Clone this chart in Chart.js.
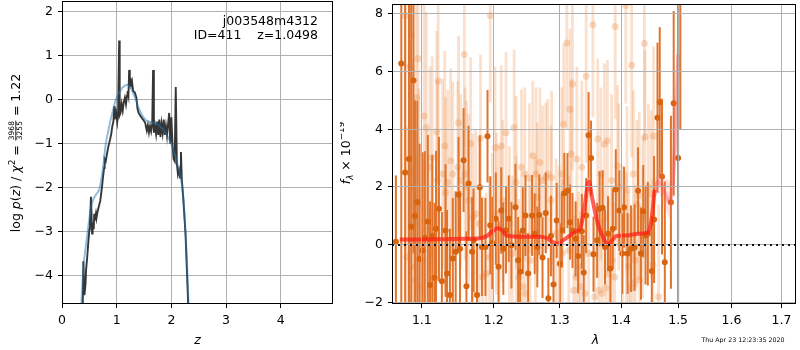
<!DOCTYPE html>
<html>
<head>
<meta charset="utf-8">
<script src="https://cdn.jsdelivr.net/npm/chart.js@4.4.0/dist/chart.umd.min.js"></script>
<style>
  html, body { margin: 0; padding: 0; background: #fff; }
  #wrap { position: relative; width: 800px; height: 350px; }
  canvas { position: absolute; top: 0; }
  #pz { left: 0; }
  #spec { left: 340px; }
</style>
</head>
<body>
<div id="wrap">
  <canvas id="pz" width="340" height="350"></canvas>
  <canvas id="spec" width="460" height="350"></canvas>
</div>
<script>
/* ---- p(z) panel ---- */
const zTicks = [0, 1, 2, 3, 4];
const logpTicks = [-4, -3, -2, -1, 0, 1, 2];

// chi2-based p(z), noisy grid
const zGrid = [0.36, 0.38, 0.39, 0.41, 0.43, 0.44, 0.46, 0.48, 0.50, 0.51, 0.53, 0.55, 0.56, 0.58, 0.59,
  0.60, 0.62, 0.63, 0.65, 0.67, 0.70, 0.73, 0.75, 0.77, 0.78, 0.80, 0.82, 0.85, 0.88, 0.90, 0.92, 0.94,
  0.955, 0.965, 0.98, 0.995, 1.01, 1.025, 1.045, 1.055, 1.07, 1.09, 1.11, 1.13, 1.15, 1.17, 1.19, 1.20,
  1.215, 1.228, 1.24, 1.25, 1.265, 1.28, 1.30, 1.33, 1.36, 1.38, 1.40, 1.44, 1.48, 1.52, 1.55, 1.57,
  1.59, 1.61, 1.63, 1.65, 1.665, 1.68, 1.70, 1.72, 1.74, 1.76, 1.78, 1.80, 1.82, 1.84, 1.86, 1.88,
  1.90, 1.92, 1.94, 1.96, 1.98, 2.00, 2.02, 2.04, 2.06, 2.08, 2.10, 2.12, 2.14, 2.16, 2.175, 2.19,
  2.22, 2.26, 2.31, 2.33];
const logpGrid = [-5.5, -4.6, -3.68, -4.45, -4.2, -3.88, -3.6, -3.27, -2.95, -2.82, -2.21, -3.05, -2.8, -2.95, -2.6,
  -2.75, -2.6, -2.7, -2.55, -2.45, -2.3, -2.0, -1.76, -1.55, -1.35, -1.4, -1.25, -1.05, -0.9, -0.78, -0.6, -0.5,
  -0.15, -0.45, -0.2, -0.35, -0.5, -0.3, 1.35, -0.35, -0.3, -0.1, -0.25, -0.05, 0.05, -0.1, 0.1, 0.2,
  0.1, 0.68, 0.3, 0.5, 0.35, 0.42, 0.2, 0.17, 0.05, -0.2, -0.3, -0.38, -0.45, -0.52, -0.7, -0.58,
  -0.75, -0.6, -0.72, -0.55, 0.68, -0.75, -0.6, -0.78, -0.5, -0.8, -0.45, -0.85, -0.55, -0.75, -0.45, -0.8,
  -0.6, -0.82, -0.55, -0.3, -1.0, -0.4, -1.0, -1.35, -1.4, 0.29, -1.45, -1.7, -1.6, -1.78, -1.19, -1.8,
  -2.3, -3.1, -4.75, -5.5];

// smooth template p(z)
const zFit = [0.33, 0.36, 0.40, 0.45, 0.50, 0.54, 0.58, 0.63, 0.68, 0.72, 0.76, 0.80, 0.84, 0.88, 0.92, 0.96,
  1.00, 1.05, 1.10, 1.15, 1.20, 1.25, 1.30, 1.35, 1.40, 1.45, 1.50, 1.55, 1.60, 1.65, 1.70, 1.75, 1.80,
  1.85, 1.90, 1.95, 2.00, 2.05, 2.10, 2.15, 2.20, 2.24, 2.27, 2.30, 2.33];
const logpFit = [-5.2, -4.5, -3.7, -3.2, -2.7, -2.4, -2.25, -2.15, -2.05, -1.8, -1.45, -1.0, -0.75, -0.5, -0.3, -0.1,
  0.05, 0.17, 0.27, 0.32, 0.34, 0.28, 0.15, 0.0, -0.18, -0.32, -0.42, -0.48, -0.5, -0.52, -0.53, -0.56, -0.62,
  -0.68, -0.76, -0.88, -1.02, -1.2, -1.4, -1.65, -2.0, -2.6, -3.3, -4.2, -5.2];

/* ---- spectrum panel ---- */
const lamTicks = [1.1, 1.2, 1.3, 1.4, 1.5, 1.6, 1.7];
const fluxTicks = [-2, 0, 2, 4, 6, 8];

const darkLam = [1.066, 1.073, 1.078, 1.083, 1.086, 1.089, 1.091, 1.094, 1.097, 1.101, 1.104, 1.108, 1.111, 1.114,
  1.117, 1.119, 1.123, 1.127, 1.132, 1.134, 1.138, 1.142, 1.146, 1.150, 1.152, 1.157, 1.161, 1.164, 1.169,
  1.171, 1.176, 1.180, 1.183, 1.188, 1.191, 1.195, 1.198, 1.203, 1.207, 1.211, 1.214, 1.218, 1.222, 1.226,
  1.232, 1.236, 1.239, 1.243, 1.247, 1.251, 1.257, 1.261, 1.265, 1.268, 1.273, 1.278, 1.282, 1.286, 1.290,
  1.295, 1.300, 1.303, 1.307, 1.312, 1.316, 1.320, 1.325, 1.329, 1.335, 1.338, 1.342, 1.346, 1.350, 1.354,
  1.360, 1.364, 1.369, 1.373, 1.378, 1.382, 1.386, 1.391, 1.397, 1.402, 1.405, 1.411, 1.417, 1.423, 1.429,
  1.434, 1.438, 1.442, 1.446, 1.453, 1.457, 1.463, 1.467, 1.471, 1.476, 1.487, 1.492, 1.500, 1.504];
const darkFlux = [0.1, 6.28, 2.5, 2.97, 0.62, 5.69, 1.0, 1.48, -0.5, -0.2, 0.24, 0.8, -1.40, 0.3,
  -1.15, 0.55, 1.24, -1.27, 0.49, -1.00, -1.75, -0.48, -0.25, 1.73, -0.14, 2.93, -1.44, 2.12, -0.25,
  0.15, -1.75, 1.99, -0.08, -0.08, 3.76, 0.67, 0.06, 0.9, -0.77, 1.18, -0.14, 0.5, 0.90, -0.02,
  1.30, -0.54, -0.94, 0.49, 1.01, -1.00, 1.01, 0.38, -0.08, 1.03, -0.45, 1.10, -1.86, 0.3, -1.38,
  0.84, -0.66, 0.5, 1.78, 1.87, 0.78, 0.49, 0.2, -0.39, 0.46, -0.97, 1.01, 3.79, 3.00, -0.33,
  0.15, 1.24, 1.28, -0.08, 0.38, -0.83, 0.55, 1.91, 1.18, -0.31, 1.30, -0.31, -0.14, -0.10, 1.87,
  -0.31, 1.16, 0.32, 0.38, -0.91, 0.87, 4.40, 4.94, 2.36, -0.61, 1.47, 4.90, 3.0, 9.5];
const darkErr = [2.3, 9, 7, 5.5, 8, 6, 4.0, 3.5, 4.0, 3.4, 3.0, 3.0, 2.9, 2.8,
  2.6, 2.7, 2.5, 2.4, 2.3, 2.2, 2.3, 2.1, 2.1, 2.0, 2.0, 1.8, 1.9, 2.0, 1.9,
  1.8, 1.8, 1.8, 1.7, 1.7, 1.6, 1.7, 1.6, 1.6, 1.6, 1.5, 1.6, 1.5, 1.5, 1.5,
  1.5, 1.5, 1.4, 1.5, 1.4, 1.4, 1.4, 1.4, 1.4, 1.4, 1.4, 1.4, 1.4, 1.4, 1.4,
  1.3, 1.4, 1.3, 1.4, 1.3, 1.3, 1.3, 1.3, 1.3, 1.3, 1.3, 1.3, 1.5, 1.3, 1.3,
  1.3, 1.3, 1.3, 1.3, 1.3, 1.3, 1.4, 1.4, 1.4, 1.4, 1.4, 1.4, 1.5, 1.5, 1.5,
  1.6, 1.6, 1.7, 1.8, 1.9, 2.2, 2.6, 2.6, 2.7, 2.8, 3.0, 3.2, 8, 5.5];

const lightLam = [1.078, 1.080, 1.084, 1.085, 1.086, 1.088, 1.090, 1.091, 1.093, 1.095, 1.096, 1.097, 1.101,
  1.103, 1.106, 1.107, 1.111, 1.114, 1.120, 1.121, 1.122, 1.128, 1.131, 1.132, 1.135, 1.139, 1.142, 1.149,
  1.150, 1.153, 1.158, 1.159, 1.161, 1.164, 1.167, 1.170, 1.174, 1.179, 1.181, 1.184, 1.189, 1.194, 1.195,
  1.198, 1.202, 1.204, 1.208, 1.211, 1.213, 1.218, 1.223, 1.227, 1.230, 1.233, 1.237, 1.241, 1.243, 1.247,
  1.253, 1.254, 1.258, 1.262, 1.265, 1.269, 1.273, 1.278, 1.281, 1.286, 1.294, 1.299, 1.304, 1.306, 1.311,
  1.314, 1.316, 1.318, 1.320, 1.322, 1.326, 1.330, 1.333, 1.340, 1.342, 1.346, 1.353, 1.356, 1.361, 1.363,
  1.368, 1.372, 1.374, 1.377, 1.379, 1.385, 1.389, 1.390, 1.394, 1.402, 1.408, 1.409, 1.413, 1.416, 1.418,
  1.420, 1.424, 1.432, 1.437, 1.440, 1.441, 1.447, 1.452, 1.455, 1.456, 1.465,
  1.233, 1.246, 1.263, 1.287, 1.303, 1.327, 1.335, 1.366, 1.384, 1.396, 1.410, 1.421, 1.427, 1.431];
const lightFlux = [7.94, -0.43, 6.18, 2.45, 7.28, 1.99, -0.77, -1.23, 5.09, 6.45, 1.41, -1.46, -0.54,
  4.46, 4.06, 0.49, 2.68, 3.02, 3.91, 2.22, 5.67, 2.45, 3.42, 1.81, 2.16, 2.91, 2.45, 2.68,
  4.23, 2.22, 6.59, 2.45, 1.99, 1.53, 3.50, 0.95, 1.07, 0.72, 3.69, -1.12, -1.00, -0.43, 7.94,
  0.38, 3.37, 1.07, 0.61, 3.42, 1.53, 3.88, 0.72, -0.31, 4.06, 0.38, -1.12, 2.68, -1.46, -1.69,
  2.30, -0.54, 3.08, 0.43, 1.64, 2.85, 2.22, 2.33, 2.45, 1.53, 0.38, 0.15, -0.31, 4.17, 6.99,
  -0.20, 4.69, 3.14, 5.57, -1.58, -1.12, -0.77, -1.46, -1.69, 5.84, -0.31, 7.62, -1.81, 3.66, -1.58,
  -1.69, 3.48, -1.50, 3.60, -1.00, -0.54, -1.12, 7.56, 2.73, 0.15, 8.29, -0.08, -0.77, -1.52, 6.22,
  -1.34, -0.54, -1.23, 0.95, 6.97, 3.74, 1.99, 1.76, -0.71, 3.77, -1.81,
  2.16, 2.45, 2.45, 2.33, 2.45, 2.97, 2.68, 2.45, 2.22, 2.0, 1.9, 2.45, 1.41, 1.7];
const lightErr = [5.5, 4.5, 5.5, 4.5, 5.5, 4.5, 4, 4, 4.5, 4.5, 4, 3.5, 3.5,
  4, 4, 3.5, 3.5, 3.5, 3.5, 3.5, 3.5, 3.3, 3.3, 3.3, 3.2, 3.2, 3.2, 3.0,
  3.0, 3.0, 3.2, 3.0, 3.0, 3.0, 3.0, 2.9, 2.9, 2.9, 2.9, 2.8, 2.8, 2.8, 3.0,
  2.8, 2.8, 2.8, 2.8, 2.8, 2.8, 2.8, 2.7, 2.7, 2.7, 2.7, 2.7, 2.7, 2.7, 2.6,
  2.6, 2.6, 2.6, 2.6, 2.6, 2.6, 2.6, 2.6, 2.6, 2.6, 2.6, 2.6, 2.6, 2.8, 3.0,
  2.6, 2.8, 2.6, 3.0, 2.6, 2.6, 2.6, 2.6, 2.6, 3.0, 2.6, 3.2, 2.6, 2.8, 2.6,
  2.6, 2.8, 2.6, 2.8, 2.6, 2.6, 2.6, 3.2, 2.8, 2.6, 3.4, 2.6, 2.6, 2.6, 3.2,
  2.6, 2.6, 2.6, 2.8, 3.4, 3.0, 2.9, 2.9, 3.0, 3.1, 3.2,
  3.0, 3.0, 3.0, 3.0, 3.0, 3.2, 3.0, 3.0, 3.0, 2.9, 2.9, 2.9, 2.9, 2.9];

// best-fit model
const modelLam = [1.071, 1.10, 1.13, 1.16, 1.18, 1.19, 1.200, 1.206, 1.212, 1.218, 1.23, 1.25, 1.27, 1.28,
  1.29, 1.296, 1.305, 1.315, 1.325, 1.333, 1.340, 1.346, 1.352, 1.360, 1.370, 1.378, 1.385, 1.392, 1.41,
  1.43, 1.445, 1.452, 1.458];
const modelFlux = [0.18, 0.18, 0.19, 0.2, 0.22, 0.3, 0.5, 0.57, 0.5, 0.33, 0.28, 0.27, 0.27, 0.22,
  0.08, 0.03, 0.15, 0.3, 0.45, 0.6, 1.4, 2.2, 1.6, 0.8, 0.25, 0.0, 0.15, 0.3, 0.32,
  0.38, 0.42, 0.8, 1.9];

// faint model continuation + uncertainty band at the red end
const edgeLam = [1.458, 1.465, 1.472, 1.478, 1.484, 1.489, 1.493, 1.497, 1.500];
const edgeFlux = [1.9, 2.2, 2.0, 1.7, 1.5, 1.9, 3.0, 5.0, 6.6];
const edgeLo = [1.6, 1.8, 1.5, 1.2, 0.9, 1.2, 2.0, 3.5, 4.8];
const edgeHi = [2.2, 2.6, 2.5, 2.3, 2.2, 2.6, 4.0, 6.5, 8.4];

const zeroLevel = 0;

/* ---- helpers ---- */
const pts = (xs, ys) => xs.map((x, i) => ({ x, y: ys[i] }));
const minus = v => (v < 0 ? '\u2212' + Math.abs(v) : String(v));
const FONT = 'DejaVu Sans';
Chart.defaults.font.family = FONT;
Chart.defaults.font.size = 12.5;
Chart.defaults.color = '#000';

const setTicks = list => scale => { scale.ticks = list.map(v => ({ value: v })); };

function axis(list, opts, fmt, w, h, gridZ) {
  return Object.assign({
    afterBuildTicks: setTicks(list),
    afterFit: s => {
      if (w != null) s.width = w;
      if (h != null) s.height = h;
      s.paddingTop = 0; s.paddingBottom = 0; s.paddingLeft = 0; s.paddingRight = 0;
    },
    border: { display: false },
    grid: { color: '#b0b0b0', lineWidth: 1, tickColor: '#000', tickLength: 4, z: gridZ || 0 },
    ticks: { autoSkip: false, maxRotation: 0, padding: 5, callback: fmt }
  }, opts);
}

const errorBars = {
  id: 'errorBars',
  beforeDatasetDraw(chart, args) {
    const ds = chart.data.datasets[args.index];
    if (!ds.errors) return;
    const { ctx, chartArea: a, scales: { x, y } } = chart;
    ctx.save();
    ctx.beginPath();
    ctx.rect(a.left, a.top, a.right - a.left, a.bottom - a.top);
    ctx.clip();
    ctx.strokeStyle = ds.errorColor;
    ctx.lineWidth = ds.errorWidth;
    ds.data.forEach((p, i) => {
      const px = x.getPixelForValue(p.x);
      ctx.beginPath();
      ctx.moveTo(px, y.getPixelForValue(p.y - ds.errors[i]));
      ctx.lineTo(px, y.getPixelForValue(p.y + ds.errors[i]));
      ctx.stroke();
    });
    ctx.restore();
  }
};

// draw a run of text pieces rotated 90deg, centred on (cx, cy), baseline at cx
function drawRotated(ctx, parts, cx, cy) {
  ctx.save();
  ctx.translate(cx, cy);
  ctx.rotate(-Math.PI / 2);
  ctx.textBaseline = 'alphabetic';
  ctx.fillStyle = '#000';
  let total = 0;
  parts.forEach(p => {
    ctx.font = p.font;
    p.w = p.frac ? Math.max(ctx.measureText(p.frac[0]).width, ctx.measureText(p.frac[1]).width) + 2
                 : ctx.measureText(p.t).width;
    total += p.w;
  });
  let u = -total / 2;
  parts.forEach(p => {
    ctx.font = p.font;
    if (p.frac) {
      ctx.textAlign = 'center';
      ctx.fillText(p.frac[0], u + p.w / 2, -5.6);
      ctx.fillText(p.frac[1], u + p.w / 2, 1.6);
      ctx.fillRect(u + 0.5, -4.6, p.w - 1, 0.8);
      ctx.textAlign = 'left';
    } else {
      ctx.textAlign = 'left';
      ctx.fillText(p.t, u, p.dy || 0);
    }
    u += p.w;
  });
  ctx.restore();
}

function frame(chart) {
  const { ctx, chartArea: a } = chart;
  ctx.save();
  ctx.strokeStyle = '#000';
  ctx.lineWidth = 1;
  ctx.strokeRect(Math.round(a.left) + 0.5, Math.round(a.top) + 0.5,
    Math.round(a.right - a.left) - 1, Math.round(a.bottom - a.top) - 1);
  ctx.restore();
}

const pzDecor = {
  id: 'pzDecor',
  afterDraw(chart) {
    frame(chart);
    const ctx = chart.ctx;
    ctx.save();
    ctx.fillStyle = '#000';
    ctx.font = '12.5px ' + FONT;
    ctx.textAlign = 'right';
    ctx.textBaseline = 'alphabetic';
    ctx.fillText('j003548m4312', 318, 25);
    ctx.fillText('ID=411    z=1.0498', 318, 38.5);
    ctx.textAlign = 'center';
    ctx.font = 'italic 12.5px ' + FONT;
    ctx.fillText('z', 197.5, 344);
    ctx.restore();
    const n = '12.5px ' + FONT, it = 'italic 12.5px ' + FONT, sm = '7.5px ' + FONT;
    drawRotated(ctx, [
      { t: 'log ', font: n }, { t: 'p', font: it }, { t: '(', font: n }, { t: 'z', font: it },
      { t: ') / ', font: n }, { t: '\u03c7', font: it }, { t: '2', font: '9px ' + FONT, dy: -5 },
      { t: ' = ', font: n }, { frac: ['3968', '3255'], font: sm }, { t: ' = 1.22', font: n }
    ], 20, 153);
  }
};

const specDecor = {
  id: 'specDecor',
  afterDraw(chart) {
    const { ctx, chartArea: a, scales: { y } } = chart;
    // dotted zero level, above the grid
    ctx.save();
    ctx.strokeStyle = '#111';
    ctx.lineWidth = 2;
    ctx.setLineDash([2, 4]);
    const py = Math.round(y.getPixelForValue(zeroLevel));
    ctx.beginPath();
    ctx.moveTo(a.left, py);
    ctx.lineTo(a.right, py);
    ctx.stroke();
    ctx.restore();
    frame(chart);
    ctx.save();
    ctx.fillStyle = '#000';
    ctx.textAlign = 'center';
    ctx.textBaseline = 'alphabetic';
    ctx.font = 'italic 12.5px ' + FONT;
    ctx.fillText('\u03bb', 255.5, 344);
    ctx.font = '6.3px ' + FONT;
    ctx.fillText('Thu Apr 23 12:23:35 2020', 403, 342);
    ctx.restore();
    drawRotated(ctx, [
      { t: 'f', font: 'italic 12.5px ' + FONT }, { t: '\u03bb', font: 'italic 8.8px ' + FONT, dy: 2.5 },
      { t: ' \u00d7 10', font: '12.5px ' + FONT }, { t: '\u221219', font: '8.8px ' + FONT, dy: -6 }
    ], 10, 153);
  }
};

/* ---- left: p(z) ---- */
new Chart(document.getElementById('pz'), {
  type: 'scatter',
  data: {
    datasets: [
      {
        type: 'line', data: pts(zGrid, logpGrid), borderColor: '#363636', borderWidth: 1.9,
        pointRadius: 0, tension: 0, order: 2
      },
      {
        type: 'line', data: pts(zFit, logpFit), borderColor: 'rgba(31,119,180,0.5)', borderWidth: 1.9,
        pointRadius: 0, tension: 0.3, order: 1
      }
    ]
  },
  options: {
    responsive: false, animation: false, devicePixelRatio: 1,
    layout: { padding: { top: 1, right: 7, left: 0, bottom: 0 } },
    plugins: { legend: { display: false }, tooltip: { enabled: false } },
    scales: {
      x: axis(zTicks, { type: 'linear', min: 0, max: 4.955 }, v => minus(v), null, 46),
      y: axis(logpTicks, { type: 'linear', min: -4.654, max: 2.25 }, v => minus(v), 62, null)
    }
  },
  plugins: [pzDecor]
});

/* ---- right: spectrum ---- */
new Chart(document.getElementById('spec'), {
  type: 'scatter',
  data: {
    datasets: [
      {
        data: pts(lightLam, lightFlux), errors: lightErr, errorColor: 'rgba(236,140,70,0.27)', errorWidth: 2.8,
        pointRadius: 3.5, pointBorderWidth: 0, backgroundColor: 'rgba(236,140,70,0.32)', order: 6
      },
      {
        data: pts(darkLam, darkFlux), errors: darkErr, errorColor: '#e0742c', errorWidth: 2,
        pointRadius: 3, pointBorderWidth: 0, backgroundColor: '#d8640f', order: 5
      },
      {
        type: 'line', data: pts(edgeLam, edgeHi), borderWidth: 0, pointRadius: 0, fill: false, order: 4
      },
      {
        type: 'line', data: pts(edgeLam, edgeLo), borderWidth: 0, pointRadius: 0, fill: '-1',
        backgroundColor: 'rgba(255,120,120,0.22)', order: 4
      },
      {
        type: 'line', data: pts(edgeLam, edgeFlux), borderColor: 'rgba(255,70,70,0.35)', borderWidth: 4,
        pointRadius: 0, tension: 0.3, order: 3
      },
      {
        type: 'line', data: pts(modelLam, modelFlux), borderColor: 'rgba(255,25,15,0.7)', borderWidth: 4,
        pointRadius: 0, cubicInterpolationMode: 'monotone', order: 2
      }
    ]
  },
  options: {
    responsive: false, animation: false, devicePixelRatio: 1,
    layout: { padding: { top: 1, right: 1, left: 0, bottom: 0 } },
    plugins: { legend: { display: false }, tooltip: { enabled: false } },
    scales: {
      x: axis(lamTicks, { type: 'logarithmic', min: 1.061, max: 1.730 }, v => v.toFixed(1), null, 46, 1),
      y: axis(fluxTicks, { type: 'linear', min: -2.058, max: 8.343 }, v => minus(v), 52, null, 1)
    }
  },
  plugins: [errorBars, specDecor]
});
</script>
</body>
</html>
